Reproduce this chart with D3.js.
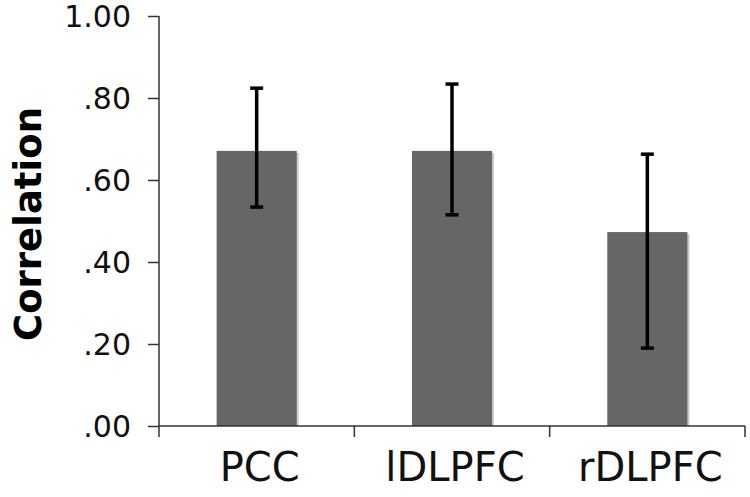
<!DOCTYPE html>
<html>
  <head>
    <meta charset="utf-8"/>
    <style>
      body { margin: 0; background: #fff; }
      text { font-family: "DejaVu Sans", Verdana, sans-serif; }
    </style>
  </head>
  <body>
    <script src="https://cdn.jsdelivr.net/npm/d3@7"></script>
    <script type="text/javascript">
      var width = 750, height = 497;

      // data
      var regions = ["PCC", "lDLPFC", "rDLPFC"];
      var means   = [0.671, 0.671, 0.473];
      var upper   = [0.824, 0.834, 0.663];
      var lower   = [0.534, 0.515, 0.190];
      var yTicks  = [0, 0.2, 0.4, 0.6, 0.8, 1.0];

      var margin = {top: 16, right: 5, bottom: 71, left: 159};

      var svg = d3.select("body")
                  .append("svg")
                  .attr("width", width)
                  .attr("height", height);

      var x = d3.scaleBand()
                .domain(regions)
                .range([margin.left, width - margin.right])
                .padding(0);

      var y = d3.scaleLinear()
                .domain([0, 1])
                .range([height - margin.bottom, margin.top]);

      var fmt = function(d) {
        return d === 1 ? "1.00" : d3.format(".2f")(d).replace(/^0/, "");
      };

      // y axis
      var yAxis = svg.append("g")
         .attr("transform", "translate(" + margin.left + ",0)")
         .call(d3.axisLeft(y).tickValues(yTicks).tickFormat(fmt)
                 .tickSize(11).tickPadding(17).tickSizeOuter(0));
      yAxis.select(".domain").attr("stroke", "#333").attr("stroke-width", 1.5)
           .attr("d", "M0," + y(1) + "V" + (y(0) + 11));
      yAxis.selectAll(".tick line").attr("stroke", "#333").attr("stroke-width", 1.5);
      yAxis.selectAll(".tick text")
           .attr("font-size", 30)
           .attr("fill", "#111")
           .attr("dy", "0.36em")
           .style("font-family", "DejaVu Sans, Verdana, sans-serif");

      // bars
      var bw = x.bandwidth() * 0.41;
      svg.selectAll("rect.shadow")
         .data(regions)
         .enter().append("rect")
         .attr("class", "shadow")
         .attr("x", function(d) { return x(d) + (x.bandwidth() - bw) / 2 + 2; })
         .attr("y", function(d, i) { return y(means[i]) + 2; })
         .attr("width", bw)
         .attr("height", function(d, i) { return y(0) - y(means[i]) - 2; })
         .attr("fill", "#c8c8c8");

      svg.selectAll("rect.bar")
         .data(regions)
         .enter().append("rect")
         .attr("class", "bar")
         .attr("x", function(d) { return x(d) + (x.bandwidth() - bw) / 2; })
         .attr("y", function(d, i) { return y(means[i]); })
         .attr("width", bw)
         .attr("height", function(d, i) { return y(0) - y(means[i]); })
         .attr("fill", "#666666");

      // x axis with ticks at category boundaries
      var xg = svg.append("g");
      xg.append("line")
        .attr("x1", x.range()[0]).attr("x2", x.range()[1])
        .attr("y1", y(0)).attr("y2", y(0))
        .attr("stroke", "#333").attr("stroke-width", 1.5);
      var bounds = regions.map(function(d) { return x(d); }).concat([x.range()[1]]);
      xg.selectAll("line.tick")
        .data(bounds.slice(1))
        .enter().append("line")
        .attr("class", "tick")
        .attr("x1", function(d) { return d; }).attr("x2", function(d) { return d; })
        .attr("y1", y(0)).attr("y2", y(0) + 11)
        .attr("stroke", "#333").attr("stroke-width", 1.5);
      xg.selectAll("text")
        .data(regions)
        .enter().append("text")
        .attr("x", function(d) { return x(d) + x.bandwidth() / 2 + 3; })
        .attr("y", y(0) + 55)
        .attr("text-anchor", "middle")
        .attr("font-size", 40)
        .attr("fill", "#111")
        .text(function(d) { return d; });

      // error bars
      var eb = svg.append("g").attr("stroke", "#000").attr("stroke-width", 3.5);
      regions.forEach(function(d, i) {
        var cx = x(d) + x.bandwidth() / 2;
        eb.append("line").attr("x1", cx).attr("x2", cx)
          .attr("y1", y(upper[i])).attr("y2", y(lower[i]));
        [upper[i], lower[i]].forEach(function(v) {
          eb.append("line").attr("x1", cx - 6.5).attr("x2", cx + 6.5)
            .attr("y1", y(v)).attr("y2", y(v));
        });
      });

      // y title
      svg.append("text")
         .attr("transform", "translate(41,224) rotate(-90)")
         .attr("text-anchor", "middle")
         .attr("font-size", 37)
         .attr("font-weight", "bold")
         .attr("fill", "#000")
         .text("Correlation");
    </script>
  </body>
</html>
